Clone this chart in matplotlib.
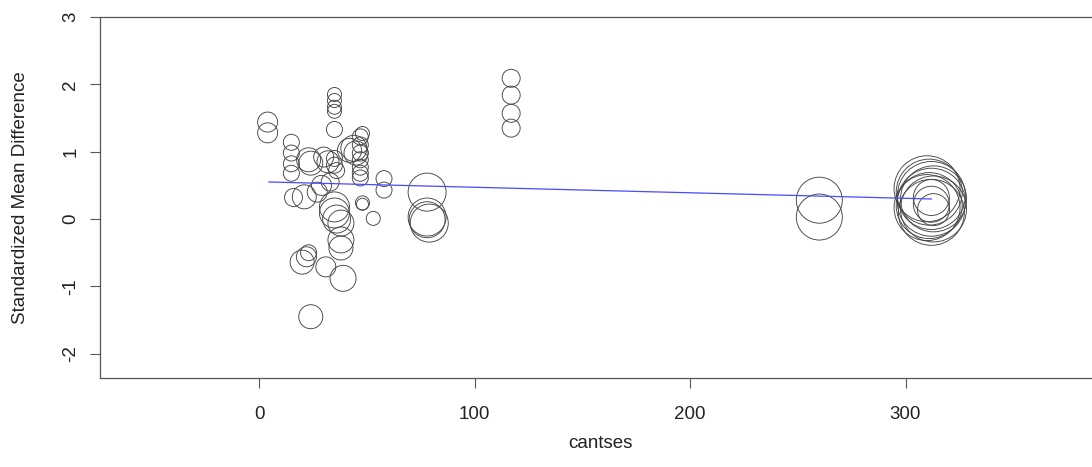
import matplotlib
matplotlib.use("Agg")
import matplotlib.pyplot as plt
import numpy as np

plt.rcParams['font.family'] = ['Liberation Sans', 'DejaVu Sans']

# Study moderator (cantses), effect size (SMD), study weight
cantses = [4, 4,
           15, 15, 15, 15, 16, 21, 24, 23,
           20, 22, 23, 24,
           35, 35, 35, 35, 35, 35, 35, 36,
           30, 32, 29, 33, 27,
           42, 44, 45,
           47, 47, 47, 47, 47, 47, 47, 48,
           35, 35, 36, 38, 38, 39, 31, 38,
           48, 48, 53, 58, 58,
           78, 78, 78, 79,
           117, 117, 117, 117,
           260, 260,
           310, 311, 312, 313, 312, 311, 313, 312, 310, 312, 312, 313]
smd = [1.44, 1.28,
       1.14, 0.98, 0.82, 0.68, 0.32, 0.33, 0.83, 0.88,
       -0.64, -0.56, -0.50, -1.45,
       1.85, 1.76, 1.66, 1.60, 1.33, 0.90, 0.80, 0.72,
       0.92, 0.85, 0.50, 0.55, 0.40,
       1.02, 1.05, 0.98,
       1.22, 1.10, 0.98, 0.88, 0.77, 0.68, 0.61, 1.27,
       0.18, 0.09, 0.00, -0.31, -0.43, -0.88, -0.71, -0.06,
       0.24, 0.22, 0.01, 0.60, 0.43,
       0.40, 0.03, -0.01, -0.06,
       2.09, 1.84, 1.57, 1.35,
       0.28, 0.03,
       0.45, 0.40, 0.35, 0.30, 0.25, 0.20, 0.15, 0.10, 0.17, 0.32, 0.22, 0.14]
weights = [10, 10,
           8, 8, 8, 8, 9, 12, 12, 12,
           12, 10, 8, 12,
           7, 7, 7, 7, 8, 8, 8, 8,
           10, 11, 10, 9, 10,
           12, 13, 12,
           8, 8, 8, 8, 8, 8, 8, 7,
           15, 15, 14, 13, 12, 13, 10, 13,
           7, 6, 7, 8, 8,
           19, 19, 18, 19,
           9, 9, 9, 9,
           23, 23,
           33, 33, 34, 33, 34, 33, 33, 33, 33, 18, 18, 16]

# meta-regression line
intercept = 0.554
slope = -0.00082

fig = plt.figure(figsize=(10.92, 4.67), dpi=100)
W, H = 1092, 467
x0, x1, y0, y1 = 100, 1100, 17, 378
ax = fig.add_axes([x0 / W, (H - y1) / H, (x1 - x0) / W, (y1 - y0) / H])

px_to_x = 2.155
ax.set_xlim(-73.8, (x1 - 259) / px_to_x)
ax.set_ylim(-2.36, 3.0)

cx = np.array(cantses, dtype=float)
cy = np.array(smd, dtype=float)
r = np.array(weights, dtype=float)
sizes = (2 * r * 0.72) ** 2
ax.scatter(cx, cy, s=sizes, facecolors='none', edgecolors='#444444', linewidths=0.65, zorder=2)

xl = np.array([cx.min() + 0.6, cx.max() - 1])
ax.plot(xl, intercept + slope * xl, color='#4a4aff', lw=0.9, zorder=3)

fs = 13.5
ax.set_xticks([0, 100, 200, 300])
ax.set_yticks([-2, -1, 0, 1, 2, 3])
ax.set_yticklabels(['-2', '-1', '0', '1', '2', '3'], rotation=90, va='center')
ax.tick_params(axis='both', direction='out', length=7, width=0.8, color='#555555',
               labelsize=fs, labelcolor='#222222')
ax.tick_params(axis='x', pad=13.5)
ax.tick_params(axis='y', pad=8)
for s in ax.spines.values():
    s.set_color('#555555')
    s.set_linewidth(0.9)

ax.set_xlabel('cantses', fontsize=fs, color='#222222', va='center')
ax.set_ylabel('Standardized Mean Difference', fontsize=fs, color='#222222', va='center')
ax.xaxis.set_label_coords(0.5, (y1 - 443) / (y1 - y0))
ax.yaxis.set_label_coords((21 - x0) / (x1 - x0), 0.5)

fig.savefig('out.png', dpi=100)
